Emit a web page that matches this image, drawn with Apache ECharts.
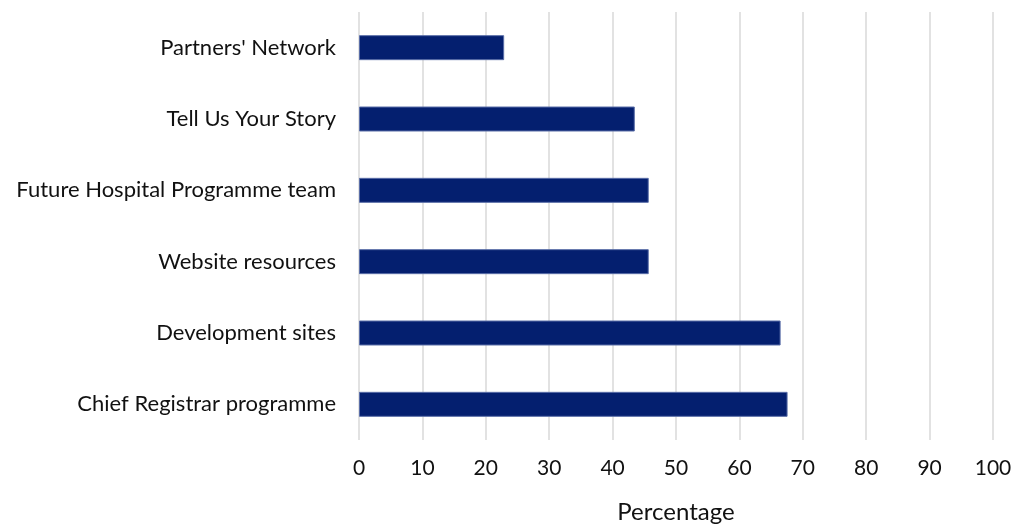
<!DOCTYPE html>
<html>
<head>
<meta charset="utf-8">
<script src="https://cdn.jsdelivr.net/npm/echarts@6/dist/echarts.min.js"></script>
<style>
  html, body { margin: 0; padding: 0; background: #fff; }
  #chart { width: 1012px; height: 525px; }
</style>
</head>
<body>
<div id="chart"></div>
<script>
// categories listed bottom to top (category axis starts at the bottom)
var categories = [
    'Chief Registrar programme',
    'Development sites',
    'Website resources',
    'Future Hospital Programme team',
    'Tell Us Your Story',
    "Partners' Network"
];
var percentages = [67.6, 66.5, 45.7, 45.7, 43.5, 22.9];

var chart = echarts.init(document.getElementById('chart'));
var option = {
    animation: false,
    grid: {
        left: 359,
        right: 19,
        top: 12,
        bottom: 85,
        outerBoundsMode: 'none'
    },
    xAxis: {
        type: 'value',
        min: 0,
        max: 100,
        interval: 10,
        name: 'Percentage',
        nameLocation: 'middle',
        nameGap: 60,
        nameTextStyle: { fontFamily: 'Lato', fontSize: 24, color: '#111' },
        axisLine: { show: false },
        axisTick: { show: false },
        axisLabel: { fontFamily: 'Lato', fontSize: 21, color: '#111', margin: 18 },
        splitLine: { show: true, lineStyle: { color: '#d9d9d9', width: 1.5 } }
    },
    yAxis: {
        type: 'category',
        data: categories,
        axisLine: { show: false },
        axisTick: { show: false },
        axisLabel: { fontFamily: 'Lato', fontSize: 22, color: '#111', margin: 23 }
    },
    series: [{
        type: 'bar',
        data: percentages,
        barWidth: 25,
        itemStyle: { color: '#041F6F', borderColor: '#5a6ea8', borderWidth: 1 }
    }]
};
chart.setOption(option);
</script>
</body>
</html>
